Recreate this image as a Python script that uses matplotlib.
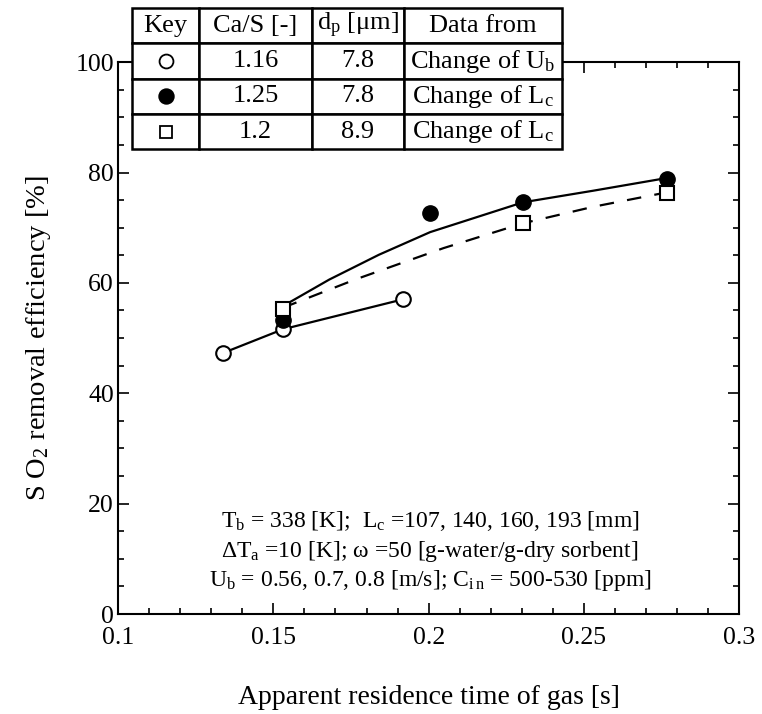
"""SO2 removal efficiency vs apparent residence time of gas."""

import matplotlib

matplotlib.use("Agg")
import matplotlib.pyplot as plt
from matplotlib.ticker import MultipleLocator, FormatStrFormatter

plt.rcParams["font.family"] = ["Liberation Serif", "DejaVu Serif"]
plt.rcParams["mathtext.fontset"] = "custom"
plt.rcParams["mathtext.rm"] = "Liberation Serif"
plt.rcParams["mathtext.it"] = "Liberation Serif:italic"

# measured points
open_x = [0.1338, 0.1531, 0.1916]
open_y = [47.3, 51.6, 57.0]
filled_x = [0.1531, 0.2005, 0.2304, 0.2767]
filled_y = [53.3, 72.6, 74.7, 78.9]
square_x = [0.1531, 0.2304, 0.2767]
square_y = [55.3, 70.8, 76.3]

# hand-drawn fit curves
fit_solid_x = [0.1531, 0.168, 0.184, 0.2005, 0.2304, 0.253, 0.2767]
fit_solid_y = [55.8, 60.6, 65.1, 69.2, 74.6, 76.7, 79.0]
fit_dash_x = [0.1531, 0.1763, 0.2048, 0.2304, 0.2531, 0.2767]
fit_dash_y = [55.5, 60.6, 66.3, 70.8, 73.8, 76.4]

table_header = ["Key", "Ca/S [-]", "d$_\\mathrm{p}$ [μm]", "Data from"]
table_rows = [
    ["", "1.16", "7.8", "Change of U$_\\mathrm{b}$"],
    ["", "1.25", "7.8", "Change of L$_\\mathrm{c}$"],
    ["", "1.2", "8.9", "Change of L$_\\mathrm{c}$"],
]

note_lines = [
    "T$_\\mathrm{b}$ = 338 [K];  L$_\\mathrm{c}$ =107, 140, 160, 193 [mm]",
    "ΔT$_\\mathrm{a}$ =10 [K]; ω =50 [g-water/g-dry sorbent]",
    "U$_\\mathrm{b}$ = 0.56, 0.7, 0.8 [m/s]; C$_\\mathrm{i\\,n}$ = 500-530 [ppm]",
]

fig = plt.figure(figsize=(7.62, 7.14), dpi=100)
ax = fig.add_axes([0.155, 0.140, 0.815, 0.773])

lw = 1.6
ax.plot(open_x, open_y, "-", color="black", lw=lw, marker="o", ms=10.5,
        mfc="white", mec="black", mew=1.5, zorder=4)
ax.plot(fit_solid_x, fit_solid_y, "-", color="black", lw=lw, zorder=3)
ax.plot(fit_dash_x, fit_dash_y, color="black", lw=lw,
        linestyle=(0, (6.5, 6)), zorder=3)
ax.plot(filled_x, filled_y, "o", color="black", ms=11, zorder=4)
ax.plot(square_x, square_y, "s", ms=10.5, mfc="white", mec="black",
        mew=1.5, zorder=5)

ax.set_xlim(0.1, 0.3)
ax.set_ylim(0, 100)
ax.xaxis.set_major_locator(MultipleLocator(0.05))
ax.xaxis.set_minor_locator(MultipleLocator(0.01))
ax.xaxis.set_major_formatter(FormatStrFormatter("%g"))
ax.yaxis.set_major_locator(MultipleLocator(20))
ax.yaxis.set_minor_locator(MultipleLocator(5))
ax.tick_params(which="both", direction="in", top=True, right=True,
               width=1.2, labelsize=18.5)
ax.tick_params(which="major", length=8)
ax.tick_params(which="minor", length=4.5)
ax.tick_params(axis="x", pad=9)
ax.tick_params(axis="y", pad=3)
for sp in ax.spines.values():
    sp.set_linewidth(1.5)

ax.set_xlabel("Apparent residence time of gas [s]", fontsize=20, labelpad=26)
ax.set_ylabel("S O$_\\mathrm{2}$ removal efficiency [%]", fontsize=20.5,
              labelpad=16)

for i, line in enumerate(note_lines):
    ax.text(0.502, 0.168 - i * 0.054, line, transform=ax.transAxes,
            ha="center", va="center", fontsize=17)

# key table over the top spine
col_w = [67, 112, 92, 157]
total = sum(col_w)
tbl = ax.table(cellText=[table_header] + table_rows,
               colWidths=[w / total for w in col_w],
               cellLoc="center",
               bbox=[0.0225, 0.842, 0.692, 0.256])
tbl.auto_set_font_size(False)
tbl.set_fontsize(19)
tbl.set_zorder(6)
for cell in tbl.get_celld().values():
    cell.set_linewidth(1.8)
    cell.set_facecolor("white")

key_x = 0.0225 + 0.692 * (col_w[0] / 2) / total
row_h = 0.256 / 4
key_styles = [
    dict(marker="o", mfc="white", mec="black", ms=10),
    dict(marker="o", mfc="black", mec="black", ms=10.5),
    dict(marker="s", mfc="white", mec="black", ms=8),
]
for i, st in enumerate(key_styles):
    ky = 0.842 + 0.256 - row_h * (i + 1.5)
    ax.plot([key_x], [ky], transform=ax.transAxes, clip_on=False,
            mew=1.3, linestyle="none", zorder=7, **st)

fig.savefig("out.png", dpi=100)
